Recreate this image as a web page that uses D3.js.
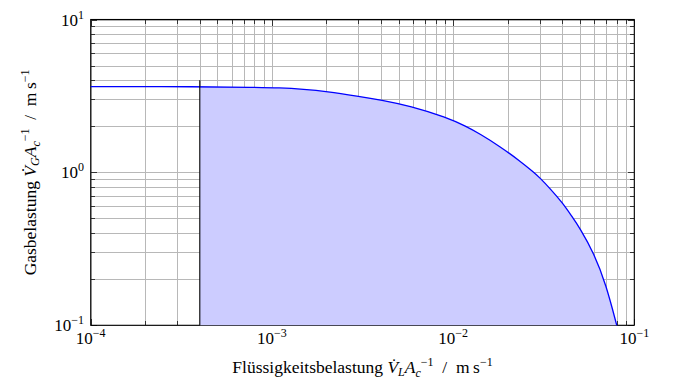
<!DOCTYPE html>
<html>
<head>
<meta charset="utf-8">
<script src="https://cdn.jsdelivr.net/npm/d3@7"></script>
<style>
  html, body { margin: 0; padding: 0; background: #fff; }
  svg { display: block; }
  text { font-family: "Liberation Serif", "DejaVu Serif", serif; fill: #000; }
</style>
</head>
<body>
<svg id="chart" width="678" height="392"></svg>
<script>
// Data
const flowLiquid = [1e-4, 4e-4, 8e-4, 1.1e-3, 1.5e-3, 2e-3, 3e-3, 4e-3, 5.8e-3, 9.2e-3, 0.0117, 0.0141, 0.0182, 0.0234, 0.0277, 0.030, 0.0343, 0.0402, 0.045, 0.050, 0.0599, 0.0698, 0.080];
const flowGas    = [3.64, 3.64, 3.60, 3.575, 3.50, 3.39, 3.15, 2.975, 2.72, 2.29, 2.01, 1.783, 1.473, 1.187, 1.008, 0.927, 0.784, 0.631, 0.52, 0.434, 0.296, 0.185, 0.1];
const minLiquid = 4e-4;      // vertical boundary line
const minLineTop = 4.0;      // top of vertical boundary line
const xDomain = [1e-4, 1e-1];
const yDomain = [1e-1, 1e1];
const xTickExps = [-4, -3, -2, -1];
const yTickExps = [-1, 0, 1];

const svg = d3.select("#chart");
const L = 90.7, R = 634.3, T = 19.5, B = 325.3;
const x = d3.scaleLog().domain(xDomain).range([L, R]);
const y = d3.scaleLog().domain(yDomain).range([B, T]);

const pts = flowLiquid.map((v, i) => ({x: v, y: flowGas[i]}));

// grid
const xAll = x.ticks();
const yAll = y.ticks();
const grid = svg.append("g").attr("stroke", "#b8b8b8").attr("stroke-width", 1).attr("shape-rendering", "crispEdges");
grid.selectAll("line.gx").data(xAll).join("line")
  .attr("x1", d => Math.round(x(d)) + 0.5).attr("x2", d => Math.round(x(d)) + 0.5)
  .attr("y1", T).attr("y2", B);
grid.selectAll("line.gy").data(yAll).join("line")
  .attr("y1", d => Math.round(y(d)) + 0.5).attr("y2", d => Math.round(y(d)) + 0.5)
  .attr("x1", L).attr("x2", R);

// ticks (inside, all four sides)
const isMajor = v => Math.abs(Math.log10(v) - Math.round(Math.log10(v))) < 1e-9;
const tk = svg.append("g").attr("stroke", "#333").attr("stroke-width", 1).attr("shape-rendering", "crispEdges");
xAll.forEach(v => {
  const px = Math.round(x(v)) + 0.5, len = isMajor(v) ? 6 : 4;
  tk.append("line").attr("x1", px).attr("x2", px).attr("y1", B).attr("y2", B - len);
  tk.append("line").attr("x1", px).attr("x2", px).attr("y1", T).attr("y2", T + len);
});
yAll.forEach(v => {
  const py = Math.round(y(v)) + 0.5, len = isMajor(v) ? 6 : 4;
  tk.append("line").attr("y1", py).attr("y2", py).attr("x1", L).attr("x2", L + len);
  tk.append("line").attr("y1", py).attr("y2", py).attr("x1", R).attr("x2", R - len);
});

// frame
svg.append("rect").attr("x", L).attr("y", T).attr("width", R - L).attr("height", B - T)
  .attr("fill", "none").attr("stroke", "#000").attr("stroke-width", 1.1);

// fill area
const curve = d3.curveBasis;
const fillPts = pts.filter(p => p.x >= minLiquid);
const area = d3.area().x(d => x(d.x)).y0(y(yDomain[0])).y1(d => y(d.y)).curve(curve);
svg.append("path").datum(fillPts).attr("d", area).attr("fill", "#ccccff");

// curve
const line = d3.line().x(d => x(d.x)).y(d => y(d.y)).curve(curve);
svg.append("path").datum(pts).attr("d", line).attr("fill", "none").attr("stroke", "#0000ff").attr("stroke-width", 1.3);

// vertical boundary line
svg.append("line").attr("x1", x(minLiquid)).attr("x2", x(minLiquid))
  .attr("y1", y(yDomain[0])).attr("y2", y(minLineTop)).attr("stroke", "#000").attr("stroke-width", 1.1);

// tick labels
const fs = 17, sfs = 12;
function powLabel(g, exp, px, py, anchor) {
  const t = g.append("text").attr("x", px).attr("y", py).attr("text-anchor", anchor).attr("font-size", fs);
  t.append("tspan").text("10");
  t.append("tspan").attr("font-size", sfs).attr("dy", -7).text(exp < 0 ? "\u2212" + (-exp) : String(exp));
}
const lab = svg.append("g");
xTickExps.forEach(e => powLabel(lab, e, x(Math.pow(10, e)), 344, "middle"));
yTickExps.forEach(e => powLabel(lab, e, 84, y(Math.pow(10, e)) + 6, "end"));

// axis titles
function mathTitle(t, sub) {
  t.append("tspan").attr("font-style", "italic").text("V\u0307");
  t.append("tspan").attr("font-style", "italic").attr("font-size", sfs).attr("dy", 3).text(sub);
  t.append("tspan").attr("font-style", "italic").attr("dy", -3).text("A");
  t.append("tspan").attr("font-style", "italic").attr("font-size", sfs).attr("dy", 4).text("c");
  t.append("tspan").attr("font-size", sfs).attr("dy", -11).text("\u22121");
  t.append("tspan").attr("dy", 7).text("\u2002/\u2002m\u2009s");
  t.append("tspan").attr("font-size", sfs).attr("dy", -7).text("\u22121");
}
const xt = svg.append("text").attr("x", (L + R) / 2).attr("y", 373).attr("text-anchor", "middle").attr("font-size", 17.5);
xt.append("tspan").text("Flüssigkeitsbelastung ");
mathTitle(xt, "L");

const yt = svg.append("text").attr("transform", `translate(36,${(T + B) / 2}) rotate(-90)`)
  .attr("text-anchor", "middle").attr("font-size", 17.5);
yt.append("tspan").text("Gasbelastung ");
mathTitle(yt, "G");
</script>
</body>
</html>
